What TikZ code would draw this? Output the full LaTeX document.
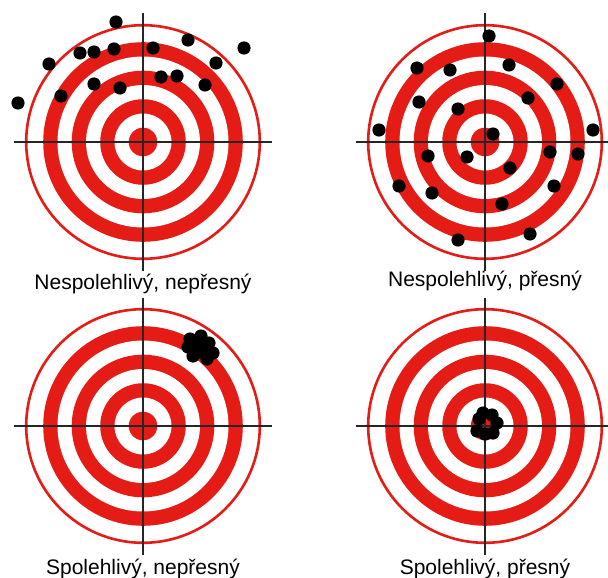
\documentclass[tikz,border=0pt]{standalone}
\usepackage{fontspec}
\setmainfont{Liberation Sans}
\usepackage{tikz}
\definecolor{targetred}{RGB}{229,27,22}
\tikzset{ring/.style={fill=targetred},
    gap/.style={fill=white},
    rim/.style={draw=targetred,line width=2.6pt},
    cross/.style={draw=black!85,line width=1.3pt},
    shot/.style={fill=black},
    caption/.style={font=\fontsize{21}{25}\selectfont,anchor=base,inner sep=0pt}}

\begin{document}
\begin{tikzpicture}[x=1pt,y=-1pt]
\clip (0,0) rectangle (608,578);
\fill[white] (0,0) rectangle (608,578);
% four targets
\foreach \cx/\cy in {143/142, 485/142, 143/426, 485/426} {
  \fill[ring] (\cx,\cy) circle[radius=99.8pt];
  \fill[gap] (\cx,\cy) circle[radius=85.5pt];
  \fill[ring] (\cx,\cy) circle[radius=71.3pt];
  \fill[gap] (\cx,\cy) circle[radius=57pt];
  \fill[ring] (\cx,\cy) circle[radius=42.8pt];
  \fill[gap] (\cx,\cy) circle[radius=28.5pt];
  \fill[ring] (\cx,\cy) circle[radius=14.3pt];
  \draw[rim] (\cx,\cy) circle[radius=116.8pt];
  \draw[cross] (\cx-129,\cy) -- (\cx+129,\cy);
  \draw[cross] (\cx,\cy-128.5) -- (\cx,\cy+128.5);
}
% shots: unreliable, inaccurate
\foreach \p in {(116,22),(188,40),(244,48),(80,53),(94,52),(114,49),(153,48),(49,64),
    (216,63),(161,77),(177,76),(205,85),(94,84),(120,88),(61,96),(18,103)}
  \fill[shot] \p circle[radius=6.6pt];
% shots: unreliable, accurate
\foreach \p in {(489,36),(417,68),(450,70),(509,65),(557,84),(528,98),(419,102),(458,109),
    (379,130),(493,134),(593,130),(428,156),(467,157),(550,152),(578,154),(510,168),
    (399,186),(432,193),(554,186),(502,204),(458,240),(530,234)}
  \fill[shot] \p circle[radius=6.6pt];
% shots: reliable, inaccurate
\foreach \p in {(190,339),(201,336),(209,343),(213,353),(207,359),(193,356),(188,347),
    (197,345),(205,350),(199,352),(203,342)}
  \fill[shot] \p circle[radius=6.6pt];
% shots: reliable, accurate
\foreach \p in {(483,413),(492,415),(497,423),(493,433),(485,434),(477,431),(479,419)}
  \fill[shot] \p circle[radius=6.6pt];
% captions
\node[caption] (capA) at (143,289.5) {Nespolehlivý, nepřesný};
\node[caption] (capB) at (485,286) {Nespolehlivý, přesný};
\node[caption] (capC) at (143,574.3) {Spolehlivý, nepřesný};
\node[caption] (capD) at (485,574.3) {Spolehlivý, přesný};
\end{tikzpicture}
\end{document}
